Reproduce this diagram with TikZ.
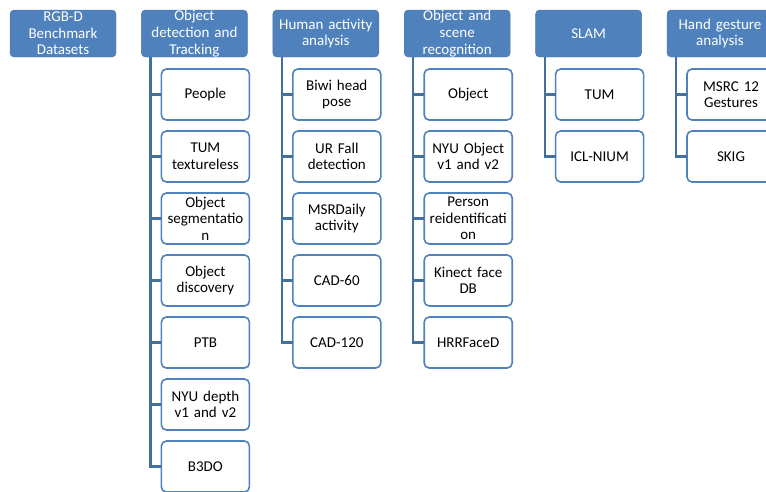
\documentclass[tikz,border=0pt]{standalone}
\usepackage{fontspec}
\setmainfont{Carlito}
\usepackage{tikz}
\usetikzlibrary{positioning}
\definecolor{hdblue}{HTML}{4F81BD}
\definecolor{lnblue}{HTML}{41719C}
\tikzstyle{head}=[draw=hdblue!92!black,fill=hdblue,text=white,rounded corners=4pt,
  minimum width=106pt,minimum height=47pt,text width=104pt,align=center,inner sep=0pt,
  outer sep=0pt,font=\fontsize{15}{16.6}\selectfont]
\tikzstyle{leaf}=[draw=hdblue,line width=1.6pt,fill=white,rounded corners=5pt,
  minimum width=88pt,minimum height=51pt,text width=88pt,align=center,inner sep=0pt,
  outer sep=0pt,font=\fontsize{15}{16.6}\selectfont]
\tikzstyle{conn}=[draw=lnblue,line width=2.2pt]

\begin{document}
\begin{tikzpicture}[x=1pt,y=1pt,node distance=25.4pt]
  \useasboundingbox (0,0) rectangle (766,-491);
  \clip (0,0) rectangle (766,-491);
  % top row
  \node[head] (rgbd) at (63,-33.5) {RGB-D\\Benchmark\\Datasets};
  \node[head] (odt) [right=of rgbd] {Object\\detection and\\Tracking};
  \node[head] (haa) [right=of odt] {Human activity\\analysis};
  \node[head] (osr) [right=of haa] {Object and\\scene\\recognition};
  \node[head] (slam) [right=of osr] {SLAM};
  \node[head] (hga) [right=of slam] {Hand gesture\\analysis};

  % object detection and tracking
  \node[leaf] (odt1) [below=12pt of odt.south west,anchor=north west,xshift=20pt] {People};
  \node[leaf] (odt2) [below=11pt of odt1] {TUM\\textureless};
  \node[leaf] (odt3) [below=11pt of odt2] {Object\\segmentatio\\n};
  \node[leaf] (odt4) [below=11pt of odt3] {Object\\discovery};
  \node[leaf] (odt5) [below=11pt of odt4] {PTB};
  \node[leaf] (odt6) [below=11pt of odt5] {NYU depth\\v1 and v2};
  \node[leaf] (odt7) [below=11pt of odt6] {B3DO};

  % human activity analysis
  \node[leaf] (haa1) [below=12pt of haa.south west,anchor=north west,xshift=20pt] {Biwi head\\pose};
  \node[leaf] (haa2) [below=11pt of haa1] {UR Fall\\detection};
  \node[leaf] (haa3) [below=11pt of haa2] {MSRDaily\\activity};
  \node[leaf] (haa4) [below=11pt of haa3] {CAD-60};
  \node[leaf] (haa5) [below=11pt of haa4] {CAD-120};

  % object and scene recognition
  \node[leaf] (osr1) [below=12pt of osr.south west,anchor=north west,xshift=20pt] {Object};
  \node[leaf] (osr2) [below=11pt of osr1] {NYU Object\\v1 and v2};
  \node[leaf] (osr3) [below=11pt of osr2] {Person\\reidentificati\\on};
  \node[leaf] (osr4) [below=11pt of osr3] {Kinect face\\DB};
  \node[leaf] (osr5) [below=11pt of osr4] {HRRFaceD};

  % slam
  \node[leaf] (slam1) [below=12pt of slam.south west,anchor=north west,xshift=20pt] {TUM};
  \node[leaf] (slam2) [below=11pt of slam1] {ICL-NIUM};

  % hand gesture analysis
  \node[leaf] (hga1) [below=12pt of hga.south west,anchor=north west,xshift=20pt] {MSRC 12\\Gestures};
  \node[leaf] (hga2) [below=11pt of hga1] {SKIG};

  % connectors
  \draw[conn] ([xshift=9pt]odt.south west) coordinate (t2)
    |- (odt1.west) (t2) |- (odt2.west) (t2) |- (odt3.west) (t2) |- (odt4.west)
    (t2) |- (odt5.west) (t2) |- (odt6.west) (t2) |- (odt7.west);
  \draw[conn] ([xshift=9pt]haa.south west) coordinate (t3)
    |- (haa1.west) (t3) |- (haa2.west) (t3) |- (haa3.west) (t3) |- (haa4.west)
    (t3) |- (haa5.west);
  \draw[conn] ([xshift=9pt]osr.south west) coordinate (t4)
    |- (osr1.west) (t4) |- (osr2.west) (t4) |- (osr3.west) (t4) |- (osr4.west)
    (t4) |- (osr5.west);
  \draw[conn] ([xshift=9pt]slam.south west) coordinate (t5)
    |- (slam1.west) (t5) |- (slam2.west);
  \draw[conn] ([xshift=9pt]hga.south west) coordinate (t6)
    |- (hga1.west) (t6) |- (hga2.west);
\end{tikzpicture}
\end{document}
